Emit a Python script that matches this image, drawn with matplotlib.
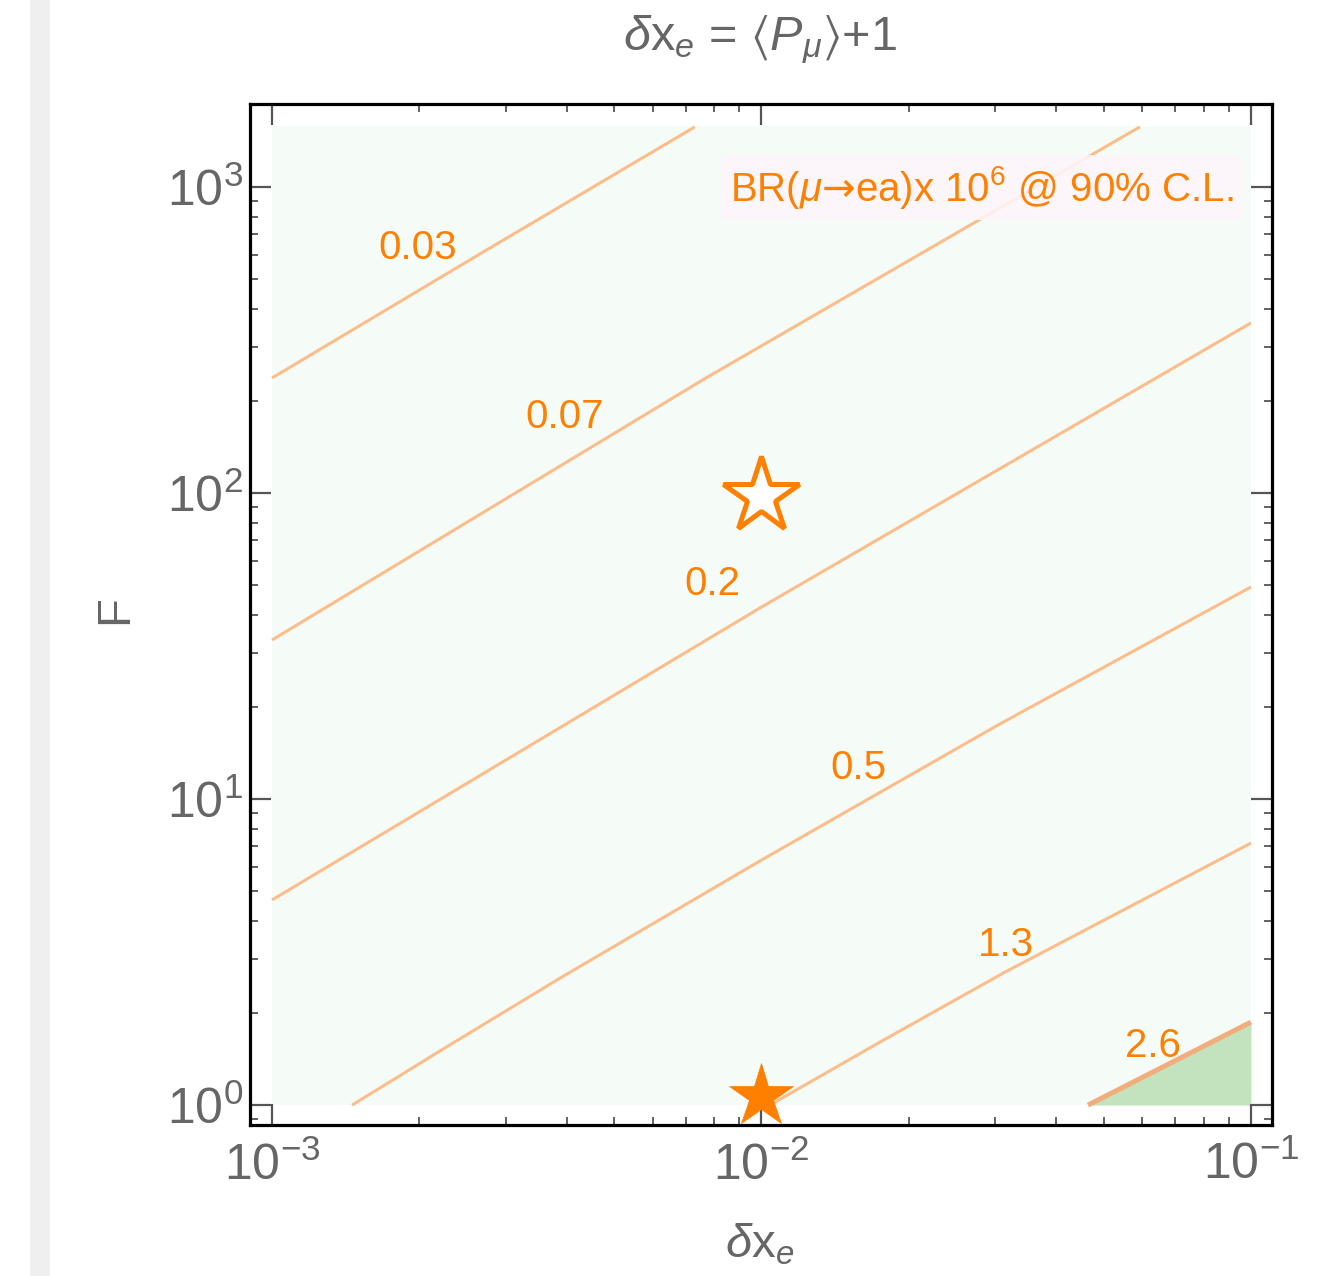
import matplotlib
matplotlib.use("Agg")
import matplotlib.pyplot as plt
import numpy as np
from matplotlib.patches import Rectangle
from matplotlib.ticker import LogLocator, LogFormatterSciNotation, NullFormatter

plt.rcParams.update({
    "font.family": ["Liberation Sans", "DejaVu Sans"],
    "mathtext.fontset": "custom",
    "mathtext.rm": "Liberation Sans",
    "mathtext.it": "Liberation Sans:italic",
    "mathtext.bf": "Liberation Sans:bold",
    "mathtext.sf": "DejaVu Sans",
    "mathtext.fallback": "stixsans",
})

# ---------------- data ----------------
x_range = [1.0e-3, 1.0e-1]          # plotted region in delta x_e
F_range = [1.0, 1585.0]             # plotted region in F

levels = ["0.03", "0.07", "0.2", "0.5", "1.3", "2.6"]

c003_x = [1.0e-3, 2.70e-3, 7.31e-3]
c003_F = [237.6, 613.0, 1571.0]
c007_x = [1.0e-3, 7.70e-3, 5.93e-2]
c007_F = [33.1, 237.6, 1571.0]
c02_x = [1.0e-3, 1.0e-2, 1.0e-1]
c02_F = [4.68, 42.4, 359.5]
c05_x = [1.457e-3, 2.310e-3, 3.877e-3, 1.0e-2, 3.07e-2, 1.0e-1]
c05_F = [1.0, 1.574, 2.60, 6.32, 17.6, 49.3]
c13_x = [1.04e-2, 1.746e-2, 3.144e-2, 1.0e-1]
c13_F = [1.0, 1.607, 2.72, 7.18]
c26_x = [4.645e-2, 1.0e-1]
c26_F = [1.0, 1.867]

star_x = [1.0e-2, 1.0e-2]
star_F = [98.0, 1.07]

label_x = [1.987e-3, 3.969e-3, 7.925e-3, 1.574e-2, 3.158e-2, 6.31e-2]
label_F = [632.0, 177.0, 50.4, 12.6, 3.33, 1.559]

# ---------------- figure ----------------
fig = plt.figure(figsize=(13.23, 12.76), dpi=100)
ax = fig.add_axes([250 / 1323, 1 - 1125 / 1276, 1022 / 1323, 1021 / 1276])
ax.set_xscale("log")
ax.set_yscale("log")
ax.set_xlim(10 ** -3.045, 10 ** -0.957)
ax.set_ylim(10 ** -0.065, 10 ** 3.271)

# region background
ax.add_patch(Rectangle((x_range[0], F_range[0]), x_range[1] - x_range[0],
                       F_range[1] - F_range[0], fc="#f5fcf8", ec="none", zorder=0))

line_col = "#fdbd8a"
orange = "#ff8000"

curves = [(c003_x, c003_F), (c007_x, c007_F), (c02_x, c02_F),
          (c05_x, c05_F), (c13_x, c13_F)]
for cx, cF in curves:
    ax.plot(cx, cF, color=line_col, lw=2.2, zorder=2, solid_capstyle="butt")

ax.fill_between(c26_x, F_range[0], c26_F, color="#c3e3bf", lw=0, zorder=1)
ax.plot(c26_x, c26_F, color="#f2ad7c", lw=3.6, zorder=2, solid_capstyle="butt")

for lab, lx, lF in zip(levels, label_x, label_F):
    ax.text(lx, lF, lab, color=orange, fontsize=29, ha="center", va="center", zorder=4)

# stars
ax.plot(star_x[0], star_F[0], marker="*", ms=57, mfc="white", mec=orange,
        mew=3.6, ls="none", zorder=5, clip_on=False)
ax.plot(star_x[1], star_F[1], marker="*", ms=48, mfc=orange, mec=orange,
        mew=0.5, ls="none", zorder=5, clip_on=False)

# legend-like annotation
ax.text(0.716, 0.918, r"BR($\mu$$\mathsf{→}$ea)x 10$^{6}$ @ 90% C.L.", transform=ax.transAxes,
        color=orange, fontsize=29, ha="center", va="center", zorder=6,
        bbox=dict(boxstyle="square,pad=0.22", fc="#fdf5fa", ec="none", alpha=0.88))

# ticks
for axis in (ax.xaxis, ax.yaxis):
    axis.set_major_locator(LogLocator(base=10, numticks=12))
    axis.set_minor_locator(LogLocator(base=10, subs=np.arange(2, 10), numticks=12))
    axis.set_major_formatter(LogFormatterSciNotation())
    axis.set_minor_formatter(NullFormatter())
ax.tick_params(which="both", direction="in", top=True, right=True, color="#555555")
ax.tick_params(which="major", length=15, width=1.6, labelsize=36, labelcolor="#666666")
ax.tick_params(which="minor", length=6, width=1.3)
ax.tick_params(axis="x", which="major", pad=12)
ax.tick_params(axis="y", which="major", pad=5)
for sp in ax.spines.values():
    sp.set_linewidth(2.3)
    sp.set_color("black")

# titles / labels
fig.text(760 / 1323, 1 - 40 / 1276, r"$\delta$x$_{e}$ = $\langle P_{\mu}\rangle$+1",
         ha="center", va="center", fontsize=35, color="#666666")
fig.text(760 / 1323, 1 - 1245 / 1276, r"$\delta$x$_{e}$",
         ha="center", va="center", fontsize=34, color="#666666")
fig.text(115 / 1323, 1 - 610 / 1276, "F", rotation=90,
         ha="center", va="center", fontsize=34, color="#666666")

# faint screenshot shadow strip on the far left
fig.patches.append(Rectangle((30 / 1323, 0), 20 / 1323, 1, transform=fig.transFigure,
                             fc="#efefef", ec="none", zorder=0))

fig.savefig("out.png", dpi=100)
